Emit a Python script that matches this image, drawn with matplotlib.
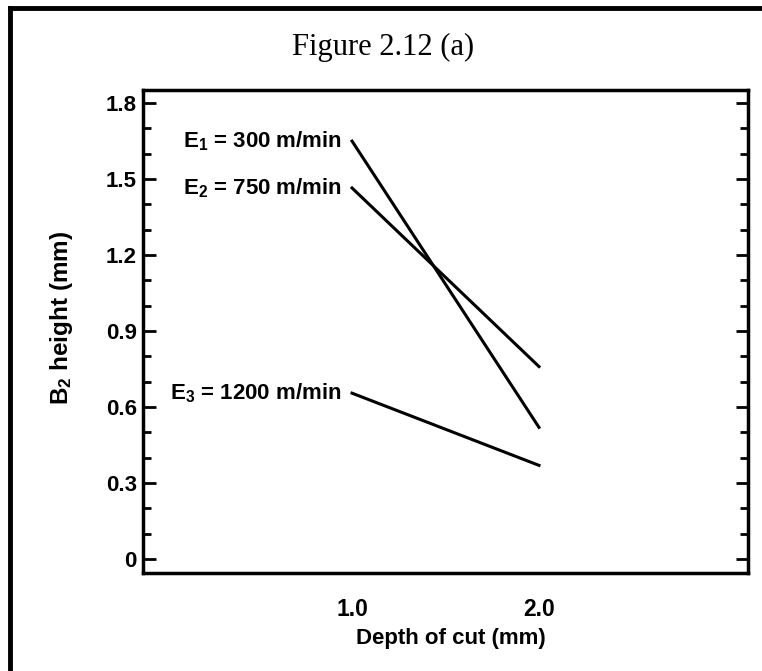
import matplotlib.pyplot as plt
from matplotlib.ticker import MultipleLocator, FixedLocator
from matplotlib.lines import Line2D

# dades llegides de la gràfica
profunditat = [1.0, 2.0]
altura_e1 = [1.65, 0.52]
altura_e2 = [1.465, 0.76]
altura_e3 = [0.655, 0.37]

etiquetes = ["E$_1$ = 300 m/min", "E$_2$ = 750 m/min", "E$_3$ = 1200 m/min"]
ticks_x = [1.0, 2.0]
ticks_x_text = ["1.0", "2.0"]
ticks_y = [0, 0.3, 0.6, 0.9, 1.2, 1.5, 1.8]
ticks_y_text = ["0", "0.3", "0.6", "0.9", "1.2", "1.5", "1.8"]

plt.rcParams["font.family"] = ["Liberation Sans", "DejaVu Sans"]
plt.rcParams["font.weight"] = "bold"
plt.rcParams["mathtext.fontset"] = "custom"
plt.rcParams["mathtext.rm"] = "Liberation Sans:bold"
plt.rcParams["mathtext.it"] = "Liberation Sans:bold"
plt.rcParams["mathtext.bf"] = "Liberation Sans:bold"


def main():
    fig = plt.figure(figsize=(7.62, 6.71), dpi=100)
    ax = fig.add_axes([0.1877, 0.146, 0.7939, 0.72])

    series = [altura_e1, altura_e2, altura_e3]
    for valors, text in zip(series, etiquetes):
        ax.plot(profunditat, valors, color="black", linewidth=2.2)
        # etiqueta a l'esquerra de l'inici de cada línia
        ax.annotate(
            text,
            xy=(profunditat[0], valors[0]),
            xytext=(-7.5, 0),
            textcoords="offset points",
            ha="right",
            va="center",
            fontsize=16,
            fontweight="bold",
        )

    ax.set_xlim(-0.118, 3.118)
    ax.set_ylim(-0.055, 1.852)

    # eix x: només etiquetes, sense marques
    ax.xaxis.set_major_locator(FixedLocator(ticks_x))
    ax.set_xticklabels(ticks_x_text)
    ax.tick_params(axis="x", length=0, pad=18, labelsize=16.5)

    # eix y: marques cap endins als dos costats
    ax.yaxis.set_major_locator(FixedLocator(ticks_y))
    ax.set_yticklabels(ticks_y_text)
    ax.yaxis.set_minor_locator(MultipleLocator(0.1))
    ax.tick_params(axis="y", which="major", direction="in", length=9, width=2,
                   right=True, labelsize=16, pad=4.5)
    ax.tick_params(axis="y", which="minor", direction="in", length=5.5, width=2,
                   right=True)

    for spine in ax.spines.values():
        spine.set_linewidth(2.5)

    ax.set_xlabel("Depth of cut (mm)", fontsize=16, fontweight="bold")
    ax.xaxis.label.set_va("baseline")
    ax.xaxis.set_label_coords(0.509, -0.147)
    ax.set_ylabel("B$_2$ height (mm)", fontsize=17.5, fontweight="bold")
    ax.yaxis.set_label_coords(-0.113, 0.528)

    # titol en lletra serif
    fig.text(0.503, 0.93, "Figure 2.12 (a)", family="Liberation Serif",
             fontweight="normal", fontsize=22, ha="center", va="center")

    # marc exterior (només dalt i esquerra)
    fig.add_artist(Line2D([10 / 762, 1], [1 - 8 / 671, 1 - 8 / 671],
                          transform=fig.transFigure, color="black", linewidth=3.5))
    fig.add_artist(Line2D([10 / 762, 10 / 762], [0, 1 - 8 / 671],
                          transform=fig.transFigure, color="black", linewidth=3.5))

    fig.savefig("out.png", dpi=100)


main()
